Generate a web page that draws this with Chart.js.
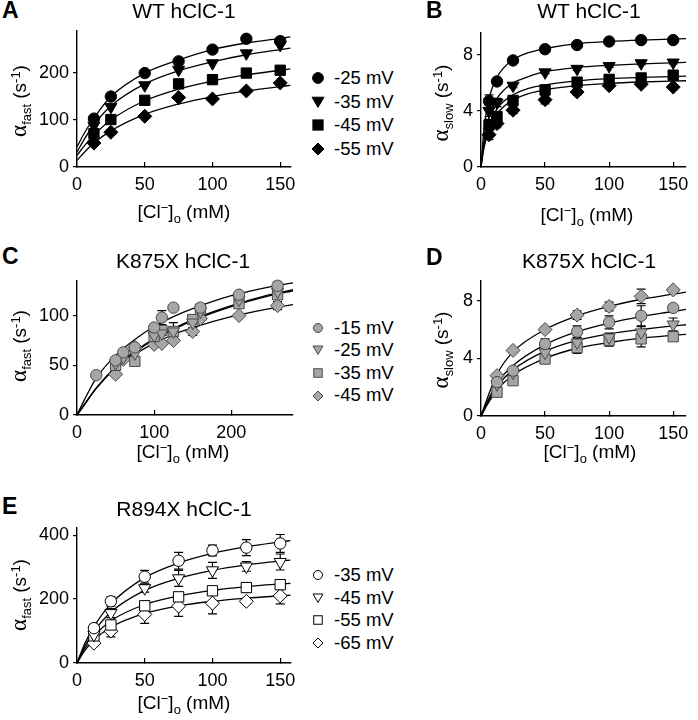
<!DOCTYPE html>
<html>
<head>
<meta charset="utf-8">
<script src="https://cdn.jsdelivr.net/npm/chart.js@4.4.0/dist/chart.umd.min.js"></script>
<style>
  body { margin: 0; background: #fff; width: 698px; height: 720px; position: relative; overflow: hidden;
         font-family: "Liberation Sans", Arial, sans-serif; color: #000; }
  canvas { position: absolute; }
  .t { position: absolute; white-space: nowrap; line-height: 1; }
  .let { font-weight: bold; font-size: 23px; }
  .ttl { font-size: 21px; transform: translateX(-50%); }
  .xt { font-size: 19px; transform: translateX(-50%); }
  .yt { font-size: 19px; transform: translate(-50%, -50%) rotate(-90deg); }
  .yt .al { font-family: "Liberation Serif", "DejaVu Serif", serif; font-size: 23px; }
  .sb { position: relative; top: 0.35em; font-size: 0.68em; }
  .sp { position: relative; top: -0.45em; font-size: 0.68em; }
  .lg { position: absolute; font-size: 18.5px; line-height: 1; }
  .lg div { display: flex; align-items: center; }
  .lg svg { margin-right: 8px; }
</style>
</head>
<body>
<script>
// ---- data ----
// A: WT alpha fast
const concA = [12.5, 25, 50, 75, 100, 125, 150];
const fastWT25 = [103, 150, 200, 225, 250, 273, 268];
const fastWT35 = [88, 128, 174, 207, 221, 242, 260];
const fastWT45 = [71, 101, 142, 177, 186, 200, 206];
const fastWT55 = [51, 74, 108, 148, 145, 162, 179];
const fitXA = [0, 6, 12.5, 25, 50, 75, 100, 125, 150, 157.5];
const fitWT25 = [43, 75, 104, 150, 200, 228, 250, 264, 274, 277];
const fitWT35 = [32, 62, 90, 130, 177, 205, 224, 239, 250, 253];
const fitWT45 = [25, 47, 68, 100, 141, 166, 183, 196, 206, 209];
const fitWT55 = [14, 33, 51, 77, 112, 134, 150, 162, 171, 174];

// B: WT alpha slow
const concB = [6.25, 12.5, 25, 50, 75, 100, 125, 150];
const slowWT25 = [4.7, 6.1, 7.6, 8.4, 8.7, 8.95, 9.05, 9.05];
const slowWT35 = [4.0, 4.6, 5.8, 6.75, 7.0, 7.2, 7.4, 7.45];
const slowWT45 = [3.0, 3.6, 4.75, 5.5, 6.05, 6.25, 6.35, 6.55];
const slowWT55 = [2.3, 3.1, 4.05, 4.8, 5.35, 5.8, 5.9, 5.7];
const errWT25 = [0.45, 0.2, 0.15, 0.1, 0.1, 0.1, 0.1, 0.1];
const errWT35 = [0.4, 0.3, 0.15, 0.1, 0.1, 0.1, 0.1, 0.1];
const errWT45 = [0.4, 0.3, 0.2, 0.15, 0.1, 0.1, 0.1, 0.1];
const errWT55 = [0.35, 0.3, 0.25, 0.3, 0.2, 0.1, 0.1, 0.1];
const fitXB = [0, 2, 4, 6.25, 9, 12.5, 18, 25, 37, 50, 75, 100, 125, 160];
const fitSlow25 = [0, 2.4, 3.8, 4.85, 5.7, 6.4, 7.1, 7.65, 8.15, 8.45, 8.8, 8.95, 9.05, 9.15];
const fitSlow35 = [0, 1.65, 2.7, 3.55, 4.25, 4.9, 5.5, 6.0, 6.45, 6.8, 7.1, 7.25, 7.36, 7.46];
const fitSlow45 = [0, 1.36, 2.27, 2.98, 3.6, 4.15, 4.7, 5.15, 5.6, 5.86, 6.14, 6.3, 6.39, 6.48];
const fitSlow55 = [0, 1.18, 2.0, 2.66, 3.25, 3.78, 4.33, 4.78, 5.23, 5.5, 5.8, 5.96, 6.06, 6.15];

// C: K875X alpha fast
const concK15 = [25, 50, 60, 75, 100, 110, 125, 160, 210, 260];
const fastK15 = [40, 55, 63, 68, 88, 98, 108, 108, 121, 130];
const errK15 = [0, 0, 0, 0, 0, 7, 0, 4, 3, 4];
const concK25 = [50, 60, 75, 100, 110, 125, 150, 160, 210, 260];
const fastK25 = [52, 58, 62, 80, 82, 84, 93, 104, 116, 124];
const errK25 = [0, 0, 0, 0, 0, 0, 0, 5, 3, 4];
const concK35 = [50, 75, 100, 110, 125, 150, 160, 210, 260];
const fastK35 = [50, 54, 79, 85, 84, 96, 106, 112, 121];
const errK35 = [0, 0, 0, 0, 9, 0, 6, 0, 3];
const concK45 = [50, 60, 75, 100, 110, 125, 150, 160, 210, 260];
const fastK45 = [41, 56, 68, 71, 72, 75, 84, 97, 100, 110];
const errK45 = [0, 0, 0, 0, 0, 0, 4, 0, 0, 4];
const fitXC = [0, 10, 25, 50, 75, 100, 125, 150, 200, 250, 280];
const fitK15 = [0, 16, 37, 60, 76, 89, 99, 107, 120, 129, 133];
const fitK25 = [0, 11, 27, 48, 63, 76, 86, 95, 109, 120, 125];
const fitK35 = [0, 11, 27, 48, 64, 77, 87, 96, 110, 121, 126];
const fitK45 = [0, 11, 27, 47, 61, 72, 81, 88, 99, 107, 111];

// D: K875X alpha slow
const concD = [12.5, 25, 50, 75, 100, 125, 150];
const slowK15 = [2.35, 3.15, 5.0, 5.85, 6.5, 6.95, 7.5];
const slowK25 = [2.2, 3.0, 4.4, 5.1, 5.45, 5.8, 6.35];
const slowK35 = [1.65, 2.45, 3.95, 4.75, 5.25, 5.35, 5.5];
const slowK45 = [2.8, 4.55, 6.0, 7.0, 7.6, 8.3, 8.75];
const errSK15 = [0.2, 0.2, 0.35, 0.4, 0.45, 0.7, 0.2];
const errSK25 = [0.15, 0.2, 0.3, 0.3, 0.3, 0.4, 0.45];
const errSK35 = [0.15, 0.2, 0.25, 0.4, 0.4, 0.55, 0.2];
const errSK45 = [0.15, 0.15, 0.2, 0.3, 0.3, 0.5, 0.15];
const fitXD = [0, 5, 12.5, 25, 50, 75, 100, 125, 150, 160];
const fitSK15 = [0, 1.0, 2.3, 3.5, 4.95, 5.85, 6.45, 6.9, 7.25, 7.4];
const fitSK25 = [0, 0.9, 2.05, 3.2, 4.5, 5.25, 5.7, 6.0, 6.25, 6.33];
const fitSK35 = [0, 0.8, 1.8, 2.85, 4.0, 4.7, 5.1, 5.4, 5.6, 5.67];
const fitSK45 = [0, 1.25, 2.9, 4.45, 6.0, 6.95, 7.6, 8.1, 8.45, 8.6];

// E: R894X alpha fast
const concE = [12.5, 25, 50, 75, 100, 125, 150];
const fastR35 = [109, 193, 270, 320, 352, 361, 374];
const fastR45 = [88, 156, 234, 265, 290, 302, 316];
const fastR55 = [85, 119, 179, 207, 226, 236, 245];
const fastR65 = [62, 100, 152, 178, 187, 193, 210];
const errR35 = [12, 15, 20, 26, 17, 25, 28];
const errR45 = [10, 14, 12, 25, 25, 15, 25];
const errR55 = [8, 12, 15, 10, 10, 15, 15];
const errR65 = [8, 18, 28, 32, 33, 8, 25];
const fitXE = [0, 6, 12.5, 25, 50, 75, 100, 125, 150, 157.5];
const fitR35 = [0, 63, 114, 185, 267, 313, 343, 364, 379, 383];
const fitR45 = [0, 54, 99, 159, 227, 265, 290, 307, 319, 322];
const fitR55 = [0, 47, 84, 132, 183, 210, 227, 239, 247, 249];
const fitR65 = [0, 40, 72, 112, 155, 179, 193, 203, 210, 212];

// tick labels
const ticks150 = [0, 50, 100, 150];
const ticks200 = [0, 100, 200];
const ticksSlow = [0, 4, 8];
const ticksC = [0, 50, 100];
const ticksE = [0, 200, 400];

const labelsWT = ['-25 mV', '-35 mV', '-45 mV', '-55 mV'];
const labelsK = ['-15 mV', '-25 mV', '-35 mV', '-45 mV'];
const labelsR = ['-35 mV', '-45 mV', '-55 mV', '-65 mV'];

// ---- drawing ----
Chart.defaults.font.family = '"Liberation Sans", Arial, sans-serif';
Chart.defaults.font.size = 18;
Chart.defaults.color = '#000';

const shapes = {
  circle: { pointStyle: 'circle', r: 5.7, rot: 0 },
  tri: { pointStyle: 'triangle', r: 7, rot: 180 },
  square: { pointStyle: 'rect', r: 7.3, rot: 0 },
  diamond: { pointStyle: 'rectRot', r: 7, rot: 0 }
};
const shapeOrder = ['circle', 'tri', 'square', 'diamond'];

const errBars = {
  id: 'errBars',
  beforeDatasetsDraw(chart) {
    const { ctx, scales: { x, y } } = chart;
    ctx.save();
    ctx.lineWidth = 1.2;
    ctx.strokeStyle = '#000';
    chart.data.datasets.forEach(ds => {
      if (!ds.err) return;
      ds.data.forEach((p, i) => {
        const e = ds.err[i];
        if (!e) return;
        const px = x.getPixelForValue(p.x);
        const y1 = y.getPixelForValue(p.y + e), y2 = y.getPixelForValue(p.y - e);
        ctx.beginPath();
        ctx.moveTo(px, y1); ctx.lineTo(px, y2);
        ctx.moveTo(px - 4.5, y1); ctx.lineTo(px + 4.5, y1);
        ctx.moveTo(px - 4.5, y2); ctx.lineTo(px + 4.5, y2);
        ctx.stroke();
      });
    });
    ctx.restore();
  }
};

function makePanel(p) {
  const padL = 50, padT = 14, padR = 16, padB = 34;
  const cv = document.createElement('canvas');
  cv.width = p.box.w + padL + padR;
  cv.height = p.box.h + padT + padB;
  cv.style.left = (p.box.l - padL) + 'px';
  cv.style.top = (p.box.t - padT) + 'px';
  document.body.appendChild(cv);

  const datasets = [];
  p.series.forEach((s, i) => {
    const st = shapes[shapeOrder[i]];
    datasets.push({
      data: s.x.map((v, j) => ({ x: v, y: s.y[j] })),
      err: s.err,
      pointStyle: st.pointStyle, pointRadius: st.r, pointRotation: st.rot,
      backgroundColor: p.fill, borderColor: p.edge, borderWidth: 1,
      showLine: false, order: 1, clip: false
    });
  });
  p.curves.forEach(c => datasets.push({
    data: c.x.map((v, j) => ({ x: v, y: c.y[j] })),
    showLine: true, pointRadius: 0, borderColor: '#000', borderWidth: 1.3,
    cubicInterpolationMode: 'monotone', order: 2, clip: false
  }));

  new Chart(cv, {
    type: 'scatter',
    data: { datasets },
    options: {
      responsive: false, animation: false, events: [],
      layout: { padding: { top: padT, right: padR, left: 0, bottom: 0 } },
      plugins: { legend: { display: false }, tooltip: { enabled: false } },
      scales: {
        x: {
          type: 'linear', min: 0, max: p.xMax,
          afterBuildTicks: s => { s.ticks = p.xTicks.map(v => ({ value: v })); },
          afterFit: s => { s.height = padB; },
          grid: { drawOnChartArea: false, tickLength: -5, color: '#000', lineWidth: 1.2 },
          border: { color: '#000', width: 1.4 },
          ticks: { padding: 12, maxRotation: 0 }
        },
        y: {
          type: 'linear', min: 0, max: p.yMax,
          afterBuildTicks: s => { s.ticks = p.yTicks.map(v => ({ value: v })); },
          afterFit: s => { s.width = padL; },
          grid: { drawOnChartArea: false, tickLength: 4, color: '#000', lineWidth: 1.2 },
          border: { color: '#000', width: 1.4 },
          ticks: { padding: 4 }
        }
      }
    },
    plugins: [errBars]
  });
}

function addText(cls, html, left, top) {
  const d = document.createElement('div');
  d.className = 't ' + cls;
  d.innerHTML = html;
  d.style.left = left + 'px';
  d.style.top = top + 'px';
  document.body.appendChild(d);
}

function markerSvg(shape, fill, edge, size) {
  const c = 8, h = size / 2;
  let el;
  if (shape === 'circle') el = `<circle cx="${c}" cy="${c}" r="${h * 0.9}"/>`;
  else if (shape === 'tri') el = `<polygon points="${c - h},${c - h * 0.8} ${c + h},${c - h * 0.8} ${c},${c + h * 0.9}"/>`;
  else if (shape === 'square') el = `<rect x="${c - h * 0.85}" y="${c - h * 0.85}" width="${h * 1.7}" height="${h * 1.7}"/>`;
  else el = `<polygon points="${c},${c - h} ${c + h},${c} ${c},${c + h} ${c - h},${c}"/>`;
  return `<svg width="16" height="16" viewBox="0 0 16 16"><g fill="${fill}" stroke="${edge}" stroke-width="1">${el}</g></svg>`;
}

function addLegend(labels, fill, edge, size, left, top, rowH) {
  const d = document.createElement('div');
  d.className = 'lg';
  d.style.left = left + 'px';
  d.style.top = top + 'px';
  d.innerHTML = labels.map((l, i) =>
    `<div style="height:${rowH}px">${markerSvg(shapeOrder[i], fill, edge, size)}<span>${l}</span></div>`).join('');
  document.body.appendChild(d);
}

const black = '#000', gray = '#a6a6a6', grayEdge = '#4a4a4a';

makePanel({
  box: { l: 77, t: 30, w: 215, h: 137 }, xMax: 157.5, yMax: 290, xTicks: ticks150, yTicks: ticks200,
  fill: black, edge: black,
  series: [
    { x: concA, y: fastWT25 }, { x: concA, y: fastWT35 },
    { x: concA, y: fastWT45 }, { x: concA, y: fastWT55 }
  ],
  curves: [
    { x: fitXA, y: fitWT25 }, { x: fitXA, y: fitWT35 },
    { x: fitXA, y: fitWT45 }, { x: fitXA, y: fitWT55 }
  ]
});
makePanel({
  box: { l: 481, t: 32, w: 205, h: 135 }, xMax: 160, yMax: 9.57, xTicks: ticks150, yTicks: ticksSlow,
  fill: black, edge: black,
  series: [
    { x: concB, y: slowWT25, err: errWT25 }, { x: concB, y: slowWT35, err: errWT35 },
    { x: concB, y: slowWT45, err: errWT45 }, { x: concB, y: slowWT55, err: errWT55 }
  ],
  curves: [
    { x: fitXB, y: fitSlow25 }, { x: fitXB, y: fitSlow35 },
    { x: fitXB, y: fitSlow45 }, { x: fitXB, y: fitSlow55 }
  ]
});
makePanel({
  box: { l: 77, t: 280, w: 216, h: 135 }, xMax: 280, yMax: 135, xTicks: [0, 100, 200], yTicks: ticksC,
  fill: gray, edge: grayEdge,
  series: [
    { x: concK15, y: fastK15, err: errK15 }, { x: concK25, y: fastK25, err: errK25 },
    { x: concK35, y: fastK35, err: errK35 }, { x: concK45, y: fastK45, err: errK45 }
  ],
  curves: [
    { x: fitXC, y: fitK15 }, { x: fitXC, y: fitK25 },
    { x: fitXC, y: fitK35 }, { x: fitXC, y: fitK45 }
  ]
});
makePanel({
  box: { l: 481, t: 280, w: 205, h: 136 }, xMax: 160, yMax: 9.38, xTicks: ticks150, yTicks: ticksSlow,
  fill: gray, edge: grayEdge,
  series: [
    { x: concD, y: slowK15, err: errSK15 }, { x: concD, y: slowK25, err: errSK25 },
    { x: concD, y: slowK35, err: errSK35 }, { x: concD, y: slowK45, err: errSK45 }
  ],
  curves: [
    { x: fitXD, y: fitSK15 }, { x: fitXD, y: fitSK25 },
    { x: fitXD, y: fitSK35 }, { x: fitXD, y: fitSK45 }
  ]
});
makePanel({
  box: { l: 77, t: 527, w: 215, h: 136 }, xMax: 157.5, yMax: 423, xTicks: ticks150, yTicks: ticksE,
  fill: '#fff', edge: black,
  series: [
    { x: concE, y: fastR35, err: errR35 }, { x: concE, y: fastR45, err: errR45 },
    { x: concE, y: fastR55, err: errR55 }, { x: concE, y: fastR65, err: errR65 }
  ],
  curves: [
    { x: fitXE, y: fitR35 }, { x: fitXE, y: fitR45 },
    { x: fitXE, y: fitR55 }, { x: fitXE, y: fitR65 }
  ]
});

// panel letters and titles
addText('let', 'A', 2, -1.5);
addText('let', 'B', 426, -1.5);
addText('let', 'C', 2, 245);
addText('let', 'D', 426, 245.5);
addText('let', 'E', 2, 494.5);
addText('ttl', 'WT hClC-1', 184, -0.5);
addText('ttl', 'WT hClC-1', 589, -0.5);
addText('ttl', 'K875X hClC-1', 183, 249.5);
addText('ttl', 'K875X hClC-1', 589, 249.5);
addText('ttl', 'R894X hClC-1', 184, 498);

// axis titles
const xTitle = '[Cl<span class="sp">\u2212</span>]<span class="sb">o</span> (mM)';
const yFast = '<span class="al">\u03b1</span><span class="sb">fast</span> (s<span class="sp">-1</span>)';
const ySlow = '<span class="al">\u03b1</span><span class="sb">slow</span> (s<span class="sp">-1</span>)';
addText('xt', xTitle, 184, 202);
addText('xt', xTitle, 587, 205);
addText('xt', xTitle, 183, 442);
addText('xt', xTitle, 590, 442);
addText('xt', xTitle, 184, 693);
addText('yt', yFast, 18, 101);
addText('yt', ySlow, 440, 103);
addText('yt', yFast, 18, 346);
addText('yt', ySlow, 440, 350);
addText('yt', yFast, 18, 595);

// legends
addLegend(labelsWT, black, black, 12, 310, 66.5, 23.5);
addLegend(labelsK, gray, grayEdge, 10, 310, 316.5, 22.6);
addLegend(labelsR, '#fff', black, 10, 310, 564, 22.6);
</script>
</body>
</html>
